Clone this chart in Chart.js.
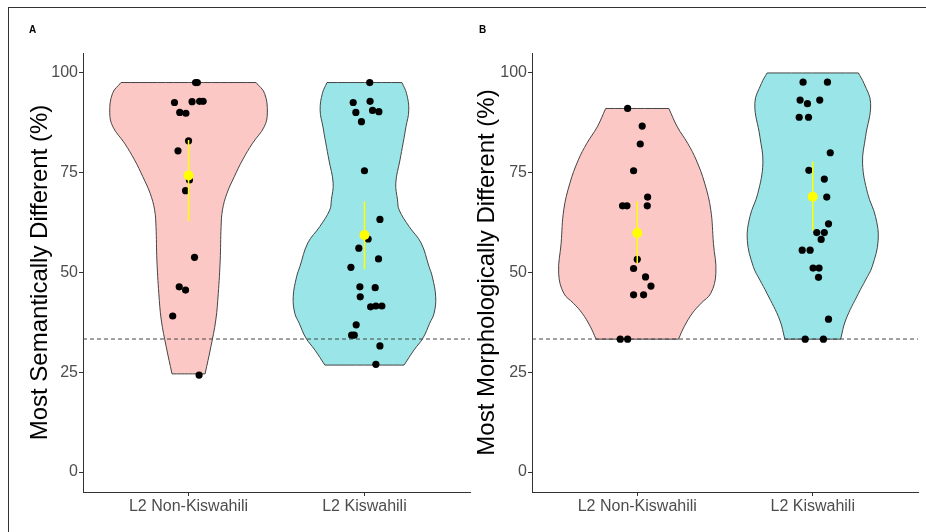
<!DOCTYPE html>
<html lang="en">
<head>
<meta charset="UTF-8">
<title>Violin plots</title>
<style>
  body { margin: 0; background: #fff; font-family: 'Liberation Sans', Arial, sans-serif; }
  #wrap { position: relative; width: 926px; height: 532px; overflow: hidden; }
  #frame { position: absolute; left: 8px; top: 7px; width: 940px; height: 540px;
           border-left: 1.5px solid #333; border-top: 1.5px solid #333; }
  canvas { position: absolute; top: 0; }
  .tag { position: absolute; top: 24px; font-size: 10px; font-weight: bold; }
</style>
<script src="https://cdn.jsdelivr.net/npm/chart.js"></script>
</head>
<body>
<div id="wrap">
  <div id="frame"></div>
  <canvas id="chartA" width="478" height="532" style="left:0"></canvas>
  <canvas id="chartB" width="477" height="532" style="left:449px"></canvas>
  <div class="tag" style="left:29px">A</div>
  <div class="tag" style="left:479px">B</div>
</div>
<script>
// categories and ticks
const groups = ['L2 Non-Kiswahili', 'L2 Kiswahili'];
const yTicks = [0, 25, 50, 75, 100];
const chance = 33.33;

// A: semantic -- jittered participant scores (x jitter in category units)
const semNonY   = [97.6, 97.6, 92.6, 92.8, 92.9, 92.9, 90.1, 89.9, 83.0, 80.5, 73.2, 70.5, 53.8, 46.4, 45.6, 39.1, 24.3];
const semNonJit = [0.04, 0.05, -0.08, 0.02, 0.063, 0.083, -0.05, -0.015, 0.0, -0.06, 0.005, -0.017, 0.034, -0.053, -0.017, -0.09, 0.06];
const semKisY   = [97.6, 92.6, 92.9, 90.1, 90.6, 90.3, 87.8, 75.5, 63.3, 58.4, 56.1, 53.4, 51.3, 46.4, 46.2, 43.9, 41.4, 41.6, 41.6, 36.9, 34.3, 34.3, 31.6, 27.0];
const semKisJit = [0.03, -0.064, 0.032, -0.049, 0.046, 0.082, -0.017, 0.0, 0.088, 0.021, -0.032, 0.08, -0.077, -0.026, 0.061, -0.024, 0.035, 0.065, 0.099, -0.047, -0.073, -0.058, 0.088, 0.065];
const semMean = [74.3, 59.4];
const semLow  = [62.9, 50.8];
const semHigh = [83.2, 67.8];

// B: morphological
const morNonY   = [91.1, 86.7, 82.2, 75.5, 68.9, 66.7, 66.7, 66.7, 53.3, 51.0, 48.9, 46.6, 44.4, 44.4, 33.3, 33.3];
const morNonJit = [-0.055, 0.028, 0.017, -0.021, 0.059, -0.084, -0.059, 0.057, 0.0, -0.021, 0.047, 0.078, -0.021, 0.036, -0.097, -0.055];
const morKisY   = [97.7, 97.7, 93.2, 92.3, 93.2, 88.9, 88.9, 80.0, 75.6, 73.4, 68.9, 62.2, 60.0, 60.0, 58.3, 55.6, 55.6, 51.1, 51.1, 48.8, 38.3, 33.3, 33.3];
const morKisJit = [-0.055, 0.084, -0.072, -0.03, 0.04, -0.077, -0.024, 0.1, -0.022, 0.066, 0.08, 0.09, 0.023, 0.066, 0.048, -0.06, -0.015, 0.002, 0.036, 0.033, 0.09, -0.043, 0.061];
const morMean = [59.9, 69.0];
const morLow  = [52.3, 60.5];
const morHigh = [67.8, 77.8];

// violin outlines: levels (top -> bottom) and half widths (category units)
const semNonLevels = [97.6, 94.9, 90.0, 86.5, 82.4, 78.2, 74.0, 69.8, 65.7, 61.5, 53.1, 44.8, 38.1, 31.4, 24.6];
const semNonWidth  = [0.384, 0.432, 0.448, 0.43, 0.364, 0.307, 0.26, 0.218, 0.193, 0.185, 0.18, 0.169, 0.155, 0.127, 0.094];
const semKisLevels = [97.6, 94.9, 90.7, 86.5, 82.5, 78.2, 72.4, 68.2, 65.7, 61.5, 57.4, 51.5, 48.9, 43.9, 39.8, 37.3, 33.6, 30.6, 26.8];
const semKisWidth  = [0.213, 0.239, 0.252, 0.236, 0.22, 0.202, 0.178, 0.188, 0.197, 0.254, 0.322, 0.367, 0.386, 0.405, 0.396, 0.371, 0.333, 0.282, 0.225];
const morNonLevels = [91.1, 86.5, 82.4, 78.2, 72.4, 65.7, 57.3, 49.8, 44.8, 42.3, 39.8, 36.4, 33.3];
const morNonWidth  = [0.18, 0.228, 0.287, 0.336, 0.384, 0.419, 0.434, 0.448, 0.419, 0.364, 0.314, 0.267, 0.235];
const morKisLevels = [100, 97.4, 92.4, 84.0, 77.4, 69.8, 64.0, 58.1, 51.5, 48.1, 44.8, 38.1, 33.3];
const morKisWidth  = [0.26, 0.292, 0.33, 0.301, 0.284, 0.313, 0.358, 0.373, 0.339, 0.301, 0.261, 0.188, 0.159];

const X_MIN = 0.4, X_MAX = 2.6;
const pinkFill = 'rgba(248,118,109,0.4)';
const cyanFill = 'rgba(0,191,196,0.4)';
const FONT = "'Liberation Sans', Arial, sans-serif";

// closed outline, corners doubled so the flat ends stay straight with tension
function violinShape(center, levels, widths) {
  const left = levels.map((y, i) => ({x: center - widths[i], y: y}));
  const right = levels.map((y, i) => ({x: center + widths[i], y: y})).reverse();
  const pts = [left[0]];
  left.forEach((p, i) => { pts.push(p); if (i === left.length - 1) pts.push(p); });
  right.forEach((p, i) => { if (i === 0) pts.push(p); pts.push(p); });
  pts.push(right[right.length - 1]);
  pts.push(left[0]);
  return pts;
}

function violin(center, levels, widths, color) {
  return {
    data: violinShape(center, levels, widths),
    showLine: true, fill: 'shape', tension: 0.4,
    backgroundColor: color, borderColor: '#444', borderWidth: 1,
    pointRadius: 0, pointHoverRadius: 0, order: 5
  };
}

function jittered(center, ys, jit) {
  return {
    data: ys.map((y, i) => ({x: center + jit[i], y: y})),
    pointRadius: 3.6, backgroundColor: '#000', borderWidth: 0, order: 3
  };
}

function errBar(center, lo, hi) {
  return {
    data: [{x: center, y: lo}, {x: center, y: hi}],
    showLine: true, borderColor: '#ffff00', borderWidth: 1.5,
    pointRadius: 0, order: 2
  };
}

function makeChart(id, title, sets, titlePad) {
  const [nonY, nonJit, kisY, kisJit, nonLv, nonW, kisLv, kisW, mean, lo, hi] = sets;
  return new Chart(document.getElementById(id), {
    type: 'scatter',
    data: {
      datasets: [
        violin(1, nonLv, nonW, pinkFill),
        violin(2, kisLv, kisW, cyanFill),
        {
          data: [{x: X_MIN, y: chance}, {x: X_MAX, y: chance}],
          showLine: true, borderColor: '#444', borderWidth: 1, borderDash: [4, 3],
          pointRadius: 0, order: 4
        },
        jittered(1, nonY, nonJit),
        jittered(2, kisY, kisJit),
        errBar(1, lo[0], hi[0]),
        errBar(2, lo[1], hi[1]),
        {
          data: mean.map((m, i) => ({x: i + 1, y: m})),
          pointRadius: 5, backgroundColor: '#ffff00', borderWidth: 0, order: 1
        }
      ]
    },
    options: {
      responsive: false,
      devicePixelRatio: 1,
      animation: false,
      events: [],
      layout: { padding: { left: 0, top: 53, right: 8, bottom: 0 } },
      plugins: { legend: { display: false }, tooltip: { enabled: false } },
      scales: {
        x: {
          type: 'linear', min: X_MIN, max: X_MAX,
          afterBuildTicks: s => { s.ticks = [1, 2].map(v => ({value: v})); },
          afterFit: s => { s.height = 40; },
          ticks: { callback: v => groups[v - 1], color: '#4d4d4d', font: { family: FONT, size: 16 },
                   padding: 1, autoSkip: false, maxRotation: 0 },
          grid: { drawOnChartArea: false, tickLength: 4, color: '#333' },
          border: { color: '#333', width: 1 }
        },
        y: {
          min: -5, max: 105,
          afterBuildTicks: s => { s.ticks = yTicks.map(v => ({value: v})); },
          afterFit: s => { s.width = 83; },
          ticks: { color: '#4d4d4d', font: { family: FONT, size: 16 }, padding: 1 },
          grid: { drawOnChartArea: false, tickLength: 4, color: '#333' },
          border: { color: '#333', width: 1 },
          title: { display: true, text: title, color: '#000',
                   font: { family: FONT, size: 24 }, padding: { top: titlePad, bottom: 0 } }
        }
      }
    }
  });
}

makeChart('chartA', 'Most Semantically Different (%)',
  [semNonY, semNonJit, semKisY, semKisJit, semNonLevels, semNonWidth, semKisLevels, semKisWidth, semMean, semLow, semHigh], 26);
makeChart('chartB', 'Most Morphologically Different (%)',
  [morNonY, morNonJit, morKisY, morKisJit, morNonLevels, morNonWidth, morKisLevels, morKisWidth, morMean, morLow, morHigh], 24);
</script>
</body>
</html>
